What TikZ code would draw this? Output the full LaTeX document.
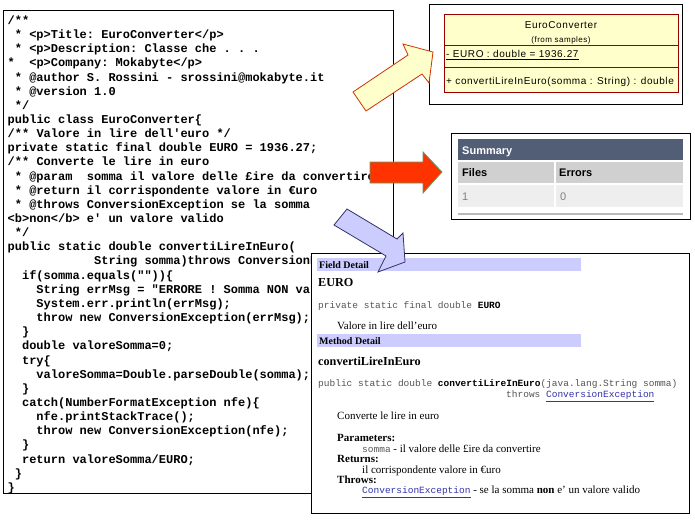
\documentclass[tikz,border=0pt]{standalone}
\usepackage{fontspec}
\setmainfont{Liberation Serif}
\setsansfont{Liberation Sans}
\setmonofont{Liberation Mono}
\usepackage{tikz}

\definecolor{umlfill}{HTML}{FFFFCC}
\definecolor{umlline}{HTML}{990000}
\definecolor{sumhead}{HTML}{525D76}
\definecolor{sumrowa}{HTML}{D0D0D0}
\definecolor{sumrowb}{HTML}{EEEEEE}
\definecolor{docband}{HTML}{CCCCFF}
\definecolor{doclink}{HTML}{3333AA}
\definecolor{docgray}{HTML}{555555}
\definecolor{arrowred}{HTML}{FF3300}
\definecolor{arrowgreen}{HTML}{669966}
\definecolor{arrowbrown}{HTML}{CC3300}
\definecolor{arrownavy}{HTML}{333366}

\newlength{\codecw}\setlength{\codecw}{7.2pt}
\newcommand{\ind}[1]{\hspace*{#1\codecw}}
\newcommand{\sq}{\textquotesingle}
\newcommand{\doclnk}[1]{\textcolor{doclink}{\underline{\ttfamily\fontsize{9.5}{11}\selectfont #1}}}

\tikzset{
  box/.style={draw=black, line width=0.9pt, fill=white},
  codetext/.style={anchor=north west, inner sep=0pt, align=left,
    font=\ttfamily\bfseries\fontsize{12}{14.15}\selectfont},
  umltext/.style={inner sep=0pt,
    font=\sffamily\fontsize{10}{12}\selectfont\addfontfeature{LetterSpace=6}},
  sumtext/.style={anchor=base west, inner sep=0pt,
    font=\sffamily\fontsize{11}{13}\selectfont},
  docserif/.style={anchor=base west, inner sep=0pt,
    font=\fontsize{11}{13}\selectfont},
  docmono/.style={anchor=base west, inner sep=0pt, text=docgray,
    font=\ttfamily\fontsize{9.5}{11}\selectfont},
  dochead/.style={anchor=base west, inner sep=0pt,
    font=\bfseries\fontsize{12.2}{14}\selectfont},
  docbandtext/.style={anchor=base west, inner sep=0pt,
    font=\bfseries\fontsize{10}{12}\selectfont},
}

\begin{document}
\begin{tikzpicture}[x=1pt, y=-1pt]
  \useasboundingbox (0, 0) rectangle (695, 519);

  % source code
  \draw [box] (3, 10) rectangle (393, 493);
  \node [codetext] (code) at (7.5, 15.5) {/**\\
\ind{1}* <p>Title: EuroConverter</p>\\
\ind{1}* <p>Description: Classe che . . .\\
{*}\ind{2}<p>Company: Mokabyte</p>\\
\ind{1}* @author S. Rossini - srossini@mokabyte.it\\
\ind{1}* @version 1.0\\
\ind{1}*/\\
public class EuroConverter\{\\
/** Valore in lire dell\sq euro */\\
private static final double EURO = 1936.27;\\
/** Converte le lire in euro\\
\ind{1}* @param\ind{2}somma il valore delle £ire da convertire\\
\ind{1}* @return il corrispondente valore in €uro\\
\ind{1}* @throws ConversionException se la somma\\
<b>non</b> e\sq{} un valore valido\\
\ind{1}*/\\
public static double convertiLireInEuro(\\
\ind{12}String somma)throws ConversionException\{\\
\ind{2}if(somma.equals(""))\{\\
\ind{4}String errMsg = "ERRORE ! Somma NON valida";\\
\ind{4}System.err.println(errMsg);\\
\ind{4}throw new ConversionException(errMsg);\\
\ind{2}\}\\
\ind{2}double valoreSomma=0;\\
\ind{2}try\{\\
\ind{4}valoreSomma=Double.parseDouble(somma);\\
\ind{2}\}\\
\ind{2}catch(NumberFormatException nfe)\{\\
\ind{4}nfe.printStackTrace();\\
\ind{4}throw new ConversionException(nfe);\\
\ind{2}\}\\
\ind{2}return valoreSomma/EURO;\\
\ind{1}\}\\
\}};

  % javadoc page
  \draw [box] (311, 253) rectangle (689, 513);
  \path [fill=docband] (317, 258) rectangle (581, 271);
  \node [docbandtext] (fieldband) at (319, 268.5) {Field Detail};
  \node [dochead] (fieldname) at (318, 286.5) {EURO};
  \node [docmono] (fieldsig) at (318, 308) {private static final double {\bfseries\color{black}EURO}};
  \node [docserif] (fielddesc) at (337, 329) {Valore in lire dell'euro};
  \path [fill=docband] (317, 334) rectangle (581, 347);
  \node [docbandtext] (methodband) at (319, 344.5) {Method Detail};
  \node [dochead] (methodname) at (318, 365) {convertiLireInEuro};
  \node [docmono] (methodsig) at (318, 386) {public static double {\bfseries\color{black}convertiLireInEuro}(java.lang.String somma)};
  \node [docmono] (methodthrows) at (506, 397.5) {throws \doclnk{ConversionException}};
  \node [docserif] (methoddesc) at (337, 419) {Converte le lire in euro};
  \node [docserif] (paramhead) at (337, 441) {\bfseries Parameters:};
  \node [docserif] (paramtext) at (362, 452.5) {{\ttfamily\fontsize{9.5}{11}\selectfont\color{docgray}somma} - il valore delle £ire da convertire};
  \node [docserif] (returnhead) at (337, 462.5) {\bfseries Returns:};
  \node [docserif] (returntext) at (362, 473) {il corrispondente valore in €uro};
  \node [docserif] (throwhead) at (337, 483.5) {\bfseries Throws:};
  \node [docserif] (throwtext) at (362, 493.5) {\doclnk{ConversionException} - se la somma \textbf{non} e' un valore valido};

  % uml class
  \draw [box] (429, 4) rectangle (682, 104);
  \draw [line width=0.9pt, draw=umlline, fill=umlfill] (444, 14) rectangle (678, 92);
  \draw [line width=0.9pt, umlline] (444, 45) -- (678, 45);
  \draw [line width=0.9pt, umlline] (444, 67) -- (678, 67);
  \node [umltext, anchor=base] (umlname) at (561, 29) {EuroConverter};
  \node [umltext, anchor=base, font=\sffamily\fontsize{8}{10}\selectfont\addfontfeature{LetterSpace=6}] (umlpkg) at (561, 42) {(from samples)};
  \node [umltext, anchor=base west] (umlattr) at (446, 57.5) {\underline{- EURO : double = 1936.27}};
  \node [umltext, anchor=base west] (umlop) at (446, 84.5) {+ convertiLireInEuro(somma : String) : double};

  % checkstyle summary
  \draw [box] (451, 133) rectangle (690, 219);
  \path [fill=sumhead] (458, 139) rectangle (683, 160);
  \path [fill=sumrowa] (458, 162) rectangle (554, 183);
  \path [fill=sumrowa] (556, 162) rectangle (683, 183);
  \path [fill=sumrowb] (458, 185) rectangle (554, 207);
  \path [fill=sumrowb] (556, 185) rectangle (683, 207);
  \draw [line width=1.2pt, gray!55] (458, 214) -- (683, 214);
  \node [sumtext, text=white] (sumtitle) at (462, 154.5) {\bfseries Summary};
  \node [sumtext] (sumfiles) at (462, 176.5) {\bfseries Files};
  \node [sumtext] (sumerrors) at (559, 176.5) {\bfseries Errors};
  \node [sumtext, text=gray] (sumfilesval) at (462, 200) {1};
  \node [sumtext, text=gray] (sumerrorsval) at (560, 200) {0};

  % block arrows
  \draw [line width=0.8pt, draw=arrowbrown, fill=umlfill]
    (353, 92) -- (408, 55) -- (403, 44) -- (433, 52) -- (429, 83) -- (422, 74) -- (366, 111) -- cycle;
  \draw [line width=0.8pt, draw=arrowgreen, fill=arrowred]
    (370, 162) -- (423, 162) -- (423, 152) -- (442, 172) -- (423, 193) -- (423, 183) -- (370, 183) -- cycle;
  \draw [line width=0.8pt, draw=arrownavy, fill=docband]
    (347, 209) -- (397, 239) -- (403, 233) -- (405, 262) -- (378, 272) -- (386, 256) -- (334, 225) -- cycle;
\end{tikzpicture}
\end{document}
